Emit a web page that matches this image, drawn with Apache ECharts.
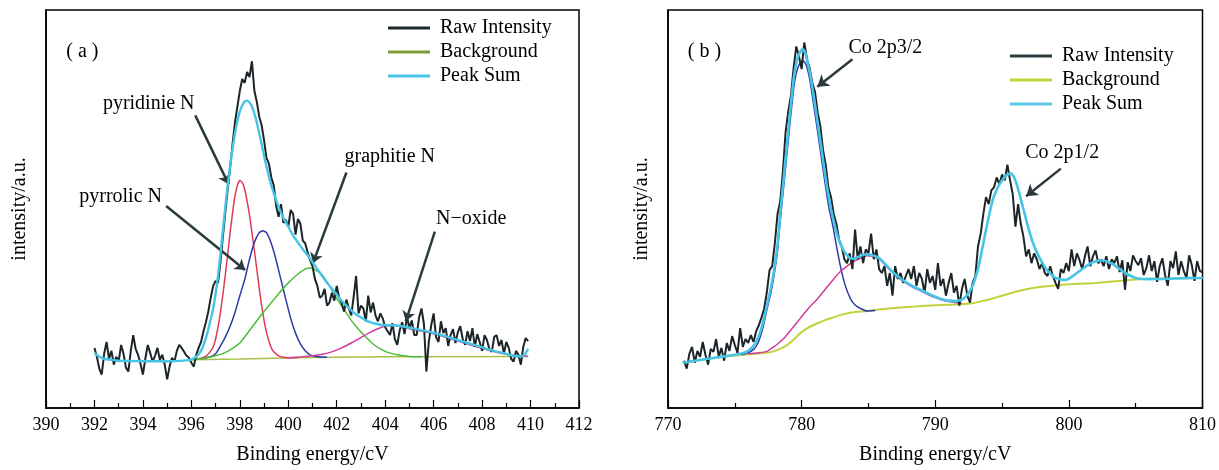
<!DOCTYPE html>
<html>
<head>
<meta charset="utf-8">
<script src="https://cdn.jsdelivr.net/npm/echarts@6/dist/echarts.min.js"></script>
<style>
html,body{margin:0;padding:0;background:#fff;}
#chart{width:1219px;height:470px;}
</style>
</head>
<body>
<div id="chart"></div>
<script>
// ---------- Panel (a): N 1s ----------
const aTicks = [390, 392, 394, 396, 398, 400, 402, 404, 406, 408, 410, 412];
const aRawStart = 392.0, aRawStep = 0.1;
const aRaw = [
  61,52,40,34,55,67,50,58,44,52,
  47,64,55,41,37,58,74,60,54,45,
  34,50,64,56,47,53,61,49,54,44,
  29,42,51,47,58,64,61,57,53,51,
  46,42,54,61,67,78,87,98,112,124,
  129,127,148,174,198,222,244,268,290,306,
  322,334,330,341,336,352,322,311,296,287,
  272,254,248,234,226,205,194,207,188,191,
  184,201,197,176,192,187,170,167,158,150,
  144,131,124,112,114,121,104,107,117,109,
  124,112,107,98,110,101,94,113,134,96,
  104,101,88,114,97,107,94,88,96,91,
  82,78,74,86,70,64,79,87,75,93,
  81,89,74,74,92,101,85,37,67,84,
  96,72,67,88,76,81,63,74,80,66,
  77,83,70,64,78,68,81,62,75,67,
  58,74,69,60,57,72,74,63,69,55,
  67,61,50,47,58,54,44,62,71,68
];
const aBackground = [[396.0,49],[398.0,49.7],[400.9,51.3],[404.0,52],[409.9,52.3]];
const aPeakSum = [[392.0,56],[392.1,54],[392.2,52],[392.4,50],[392.7,48.8],[393.0,48],[393.5,47.7],[394.0,47.5],[394.5,47.5],
  [395.0,47.5],[395.5,47.8],[395.8,48.3],[396.0,49],[396.1,50.5],[396.2,52],[396.3,54.5],[396.4,58],[396.5,64],[396.6,71],
  [396.7,80],[396.8,90],[396.9,101],[397.0,116],[397.1,134],[397.2,156],[397.3,180],[397.4,204],[397.5,226],[397.6,246],
  [397.7,263],[397.8,279],[397.9,291],[398.0,301],[398.1,307],[398.2,311],[398.3,312],[398.4,310],[398.5,306],[398.6,299],
  [398.7,290],[398.8,279],[398.9,268],[399.0,256],[399.1,245],[399.2,235],[399.3,226],[399.4,218],[399.5,211],[399.6,204],
  [399.8,193],[400.0,184],[400.2,175],[400.4,168],[400.6,161],[400.8,155],[401.0,148],[401.2,141],[401.4,134],[401.6,127],
  [401.8,121],[402.0,115],[402.2,109],[402.4,104],[402.6,99],[402.8,95],[403.0,92],[403.2,89],[403.4,87],[403.6,85.5],
  [403.8,84.5],[404.0,84],[404.3,84],[404.6,83.5],[405.0,81.5],[405.4,79.5],[405.8,77.5],[406.2,75],[406.6,72],[407.0,69],
  [407.4,66],[407.8,63],[408.2,60],[408.6,57.3],[409.0,55],[409.3,53],[409.6,52.3],[409.75,54],[409.9,60]];
const aPyridinic = [[396.2,49.5],[396.4,50.5],[396.6,52.5],[396.8,58],[396.9,62],[397.0,70],[397.1,82],[397.2,97],[397.3,115],
  [397.4,135],[397.5,156],[397.6,178],[397.7,198],[397.8,215],[397.9,226],[398.0,231],[398.1,229],[398.2,222],[398.3,210],
  [398.4,196],[398.5,178],[398.6,160],[398.7,141],[398.8,122],[398.9,104],[399.0,89],[399.1,77],[399.2,68],[399.3,61],
  [399.4,57],[399.6,53],[399.8,51.5],[400.0,51],[400.4,51]];
const aPyrrolic = [[396.4,50],[396.8,52],[397.0,55],[397.2,63],[397.4,72],[397.6,83],[397.8,97],[398.0,114],[398.2,130],
  [398.4,151],[398.6,168],[398.8,178],[398.95,180],[399.1,178],[399.3,167],[399.5,150],[399.7,130],[399.9,110],[400.1,91],
  [400.3,76],[400.5,65],[400.7,58],[400.9,54],[401.2,52],[401.6,51.5]];
const aGraphitic = [[396.0,49],[396.5,50.5],[397.0,53],[397.5,57.5],[398.0,66],[398.5,82],[399.0,98],[399.5,113],[400.0,127],
  [400.4,136],[400.7,141],[400.9,142],[401.1,140.5],[401.4,135],[401.7,124],[402.0,111],[402.3,100],[402.6,89],[402.9,80],
  [403.2,72],[403.5,65],[403.8,60],[404.1,56.5],[404.5,54],[405.0,52.3],[405.5,52]];
const aNOxide = [[400.0,51],[400.6,52],[401.0,53],[401.4,54.5],[401.8,57],[402.2,61],[402.6,66],[403.0,71.5],[403.4,77],
  [403.8,81.5],[404.1,83.5],[404.4,84],[404.7,83],[405.0,80.5],[405.4,78.5],[405.8,76.5],[406.2,74],[406.6,71],[407.0,68],
  [407.4,65],[407.8,62],[408.2,59],[408.6,56.5],[409.0,54.5],[409.4,53],[409.9,52.5]];
const aLabels = [
  {name:'( a )', coord:[391.5,362]},
  {name:'pyridinie N', coord:[394.24,309]},
  {name:'pyrrolic N', coord:[393.08,214]},
  {name:'graphitie N', coord:[404.19,255]},
  {name:'N\u2212oxide', coord:[407.55,192]}
];
const aArrows = [
  [[396.16,297],[397.54,227]],
  [[394.96,205],[398.22,140]],
  [[402.4,239],[401.02,147]],
  [[406.05,179],[404.85,88]]
];

// ---------- Panel (b): Co 2p ----------
const bTicks = [770, 780, 790, 800, 810];
const bRawStart = 771.2, bRawStep = 0.2;
const bRaw = [
  48,40,55,62,46,58,52,67,54,44,
  60,57,70,52,61,48,66,58,73,64,
  56,81,62,70,66,74,67,78,84,92,
  101,118,140,144,168,197,210,240,280,301,
  317,345,367,357,344,371,354,345,330,321,
  300,286,262,247,224,214,197,187,171,164,
  151,147,157,141,181,151,164,147,161,157,
  177,151,161,141,137,144,124,137,114,144,
  131,137,127,134,141,131,144,124,137,131,
  117,141,127,134,120,147,124,131,114,127,
  137,117,124,104,121,131,114,107,127,134,
  164,177,197,214,207,221,224,234,227,237,
  231,247,231,217,184,207,187,174,154,161,
  147,157,151,141,147,137,134,144,134,127,
  121,141,137,147,139,161,144,157,150,141,
  154,164,144,154,160,147,151,144,154,141,
  151,147,154,138,150,120,148,139,155,149,
  145,152,135,142,155,139,149,128,144,152,
  135,124,149,142,159,135,149,139,132,155,
  145,129,149,139,138
];
const bBackground = [[771.1,46],[772.0,48],[773.0,50],[774.0,51.8],[775.0,53.2],[775.7,54],[776.5,55],[777.4,56],[778.0,58],
  [778.7,62],[779.3,68],[779.9,76],[780.5,81.5],[781.2,86],[781.8,89.5],[782.4,92],[783.0,94.8],[783.7,97],[784.3,97.8],
  [784.9,98.5],[786.0,100.3],[787.4,102],[788.5,103],[789.6,104],[790.5,104.5],[791.5,105],[792.6,106],[793.5,108.5],
  [794.5,112],[795.5,116],[796.3,119],[797.0,121],[798.0,123],[799.5,125],[800.7,126],[802.0,127],[803.7,129],[805.5,131],
  [807.5,131.6],[810.0,132]];
const bPeakSum = [[771.1,46],[772.0,48],[773.0,50],[774.0,52],[775.0,54],[775.7,56],[776.0,58],[776.3,61.5],[776.6,67],
  [776.9,77],[777.15,89],[777.4,104],[777.7,122],[777.95,141],[778.2,166],[778.4,197],[778.65,232],[778.9,267],[779.15,302],
  [779.4,334],[779.6,350],[779.8,359],[780.0,363.5],[780.1,364],[780.25,361],[780.4,354],[780.65,338],[780.9,317],[781.15,294],
  [781.4,271],[781.65,247],[781.9,224],[782.2,202],[782.5,184],[782.8,170],[783.1,161],[783.4,155],[783.75,151.5],[784.1,152.5],
  [784.5,155],[784.9,156],[785.3,155],[785.6,153.5],[785.9,151],[786.4,144],[786.9,137],[787.4,131.5],[787.9,127],[788.4,123],
  [788.9,120],[789.5,116],[790.0,113],[790.5,110.5],[791.0,109],[791.5,108.5],[792.0,110],[792.4,115],[792.8,124],[793.05,134],
  [793.3,147],[793.55,164],[793.8,181],[794.05,197],[794.3,211],[794.55,220],[794.8,227],[795.05,232],[795.3,236],[795.5,237.5],
  [795.7,238],[795.85,235.5],[796.0,231],[796.25,220],[796.5,207],[796.75,194],[797.0,181],[797.25,170],[797.5,161],[797.9,150],
  [798.3,141],[798.65,136],[799.0,132],[799.4,130.5],[799.8,130],[800.15,132.5],[800.5,136],[800.9,140],[801.3,144],[801.65,147],
  [802.0,149],[802.5,150],[802.9,148.5],[803.3,146],[803.65,142.5],[804.0,139],[804.5,135],[805.0,132],[805.5,131],[806.0,130.8],
  [807.0,131],[808.0,131.5],[809.0,132],[810.0,132]];
const bCo2p3 = [[775.5,54],[776.0,56],[776.45,60],[776.7,65],[776.9,72],[777.15,84],[777.4,100],[777.7,117],[777.95,136],
  [778.2,160],[778.4,190],[778.65,224],[778.9,258],[779.15,292],[779.4,324],[779.6,340],[779.8,348],[780.0,352],[780.1,352.5],
  [780.25,350.5],[780.4,346],[780.6,334],[780.8,317],[781.05,294],[781.3,271],[781.55,247],[781.8,224],[782.05,203],[782.35,184],
  [782.6,165],[782.9,144],[783.25,125],[783.65,111],[784.0,104.5],[784.4,101],[784.9,98.5],[785.5,99]];
const bSatellite = [[776.0,55],[776.8,56],[777.4,57.5],[777.8,61],[778.2,65],[778.7,71],[779.3,81],[779.9,91],[780.5,101],
  [781.2,111],[781.8,121],[782.4,131],[782.9,138.5],[783.4,144],[783.8,148],[784.2,151],[784.55,153],[784.9,154.5],[785.3,154],
  [785.6,152.5],[785.9,150],[786.4,143],[786.9,136],[787.4,130.5],[787.9,126],[788.4,122],[788.9,119],[789.5,115],[790.0,112],
  [790.5,109.5],[791.0,108],[791.5,107],[792.0,106]];
const bLabels = [
  {name:'( b )', coord:[772.73,362]},
  {name:'Co 2p3/2', coord:[786.27,366]},
  {name:'Co 2p1/2', coord:[799.5,259]}
];
const bArrows = [
  [[783.8,354],[781.18,326]],
  [[799.4,243],[796.8,215]]
];

const legendNames = ['Raw Intensity', 'Background', 'Peak Sum'];

// ---------- build ----------
const FONT = "'Liberation Serif','Times New Roman',serif";
const rawPairs = (start, step, vals) => vals.map((v, i) => [+(start + i * step).toFixed(2), v]);

function lineSeries(name, data, color, width, gi, smooth, z) {
  return {
    name: name, type: 'line', data: data, xAxisIndex: gi, yAxisIndex: gi,
    showSymbol: false, symbol: 'none', smooth: smooth ? 0.15 : false,
    lineStyle: {color: color, width: width}, itemStyle: {color: color},
    z: z || 2, silent: true, animation: false
  };
}
function annotate(series, labels, arrows, arrowColor, arrowSize) {
  series.markPoint = {
    symbol: 'circle', symbolSize: 0, silent: true, animation: false,
    label: {show: true, position: 'inside', formatter: '{b}', color: '#000', fontFamily: FONT, fontSize: 20},
    data: labels.map(l => ({name: l.name, coord: l.coord}))
  };
  series.markLine = {
    silent: true, animation: false, symbol: ['none', 'arrow'], symbolSize: arrowSize,
    label: {show: false},
    lineStyle: {color: arrowColor, width: 2.5, type: 'solid'},
    emphasis: {disabled: true},
    data: arrows.map(a => [{coord: a[0]}, {coord: a[1]}])
  };
  return series;
}

function xAxisCfg(gi, min, max, interval, ticks) {
  return {
    type: 'value', gridIndex: gi, min: min, max: max, interval: interval,
    name: 'Binding energy/cV', nameLocation: 'middle', nameGap: 37,
    nameTextStyle: {fontFamily: FONT, fontSize: 20, color: '#000'},
    axisLine: {show: true, onZero: false, lineStyle: {color: '#000', width: 1.5}},
    axisTick: {show: true, inside: true, length: 8, lineStyle: {color: '#000', width: 1.2}},
    minorTick: {show: true, splitNumber: 2, length: 5, lineStyle: {color: '#000', width: 1.2}},
    splitLine: {show: false}, minorSplitLine: {show: false},
    axisLabel: {show: true, margin: 8, fontFamily: FONT, fontSize: 18, color: '#000',
      formatter: v => ticks.indexOf(v) >= 0 ? String(v) : ''}
  };
}
function yAxisCfg(gi) {
  return {
    type: 'value', gridIndex: gi, min: 0, max: 404,
    name: 'intensity/a.u.', nameLocation: 'middle', nameGap: 16, nameRotate: 90,
    nameTextStyle: {fontFamily: FONT, fontSize: 20, color: '#000'},
    axisLine: {show: true, lineStyle: {color: '#000', width: 1.5}},
    axisTick: {show: false}, axisLabel: {show: false}, splitLine: {show: false}
  };
}

const aBg = annotate(lineSeries('Background', aBackground, '#a9bf45', 1.5, 0, false, 2), aLabels, aArrows, '#2b3a3e', 10);
const bBg = annotate(lineSeries('Background', bBackground, '#c3d23c', 2, 1, true, 2), bLabels, bArrows, '#2b3a3e', 11);

const series = [
  aBg,
  lineSeries('pyridinic', aPyridinic, '#e03b55', 1.5, 0, true, 3),
  lineSeries('pyrrolic', aPyrrolic, '#2c3aa6', 1.5, 0, true, 3),
  lineSeries('graphitic', aGraphitic, '#4fbd3c', 1.5, 0, true, 3),
  lineSeries('N-oxide', aNOxide, '#d23a9c', 1.5, 0, true, 3),
  lineSeries('Raw Intensity', rawPairs(aRawStart, aRawStep, aRaw), '#1c2629', 2, 0, false, 4),
  lineSeries('Peak Sum', aPeakSum, '#45c4e6', 2.4, 0, true, 5),

  bBg,
  lineSeries('Co2p3', bCo2p3, '#2c3aa6', 1.5, 1, true, 3),
  lineSeries('satellite', bSatellite, '#d23a9c', 1.5, 1, true, 3),
  lineSeries('Raw Intensity', rawPairs(bRawStart, bRawStep, bRaw), '#1c2629', 2, 1, false, 4),
  lineSeries('Peak Sum', bPeakSum, '#45c4e6', 2.6, 1, true, 5)
];

function legendCfg(left, top, colors) {
  return {
    orient: 'vertical', left: left, top: top, icon: 'rect', itemWidth: 42, itemHeight: 3, itemGap: 4,
    selectedMode: false, padding: 0,
    textStyle: {fontFamily: FONT, fontSize: 20, lineHeight: 20, color: '#000', padding: [0, 0, 0, 5]},
    data: legendNames.map((n, i) => ({name: n, itemStyle: {color: colors[i]}}))
  };
}

const chart = echarts.init(document.getElementById('chart'), null, {renderer: 'canvas'});
chart.setOption({
  animation: false,
  backgroundColor: '#fff',
  grid: [
    {left: 46, top: 10, width: 533, height: 404, show: true, borderColor: '#000', borderWidth: 1.5, backgroundColor: 'transparent'},
    {left: 668, top: 10, width: 535, height: 404, show: true, borderColor: '#000', borderWidth: 1.5, backgroundColor: 'transparent'}
  ],
  xAxis: [xAxisCfg(0, 390, 412, 2, aTicks), xAxisCfg(1, 770, 810, 10, bTicks)],
  yAxis: [yAxisCfg(0), yAxisCfg(1)],
  legend: [
    legendCfg(388, 18, ['#1f2b2f', '#7f9c36', '#48c6e6']),
    legendCfg(1010, 46, ['#2a3a40', '#c3d33a', '#5ccbea'])
  ],
  series: series
});
</script>
</body>
</html>
